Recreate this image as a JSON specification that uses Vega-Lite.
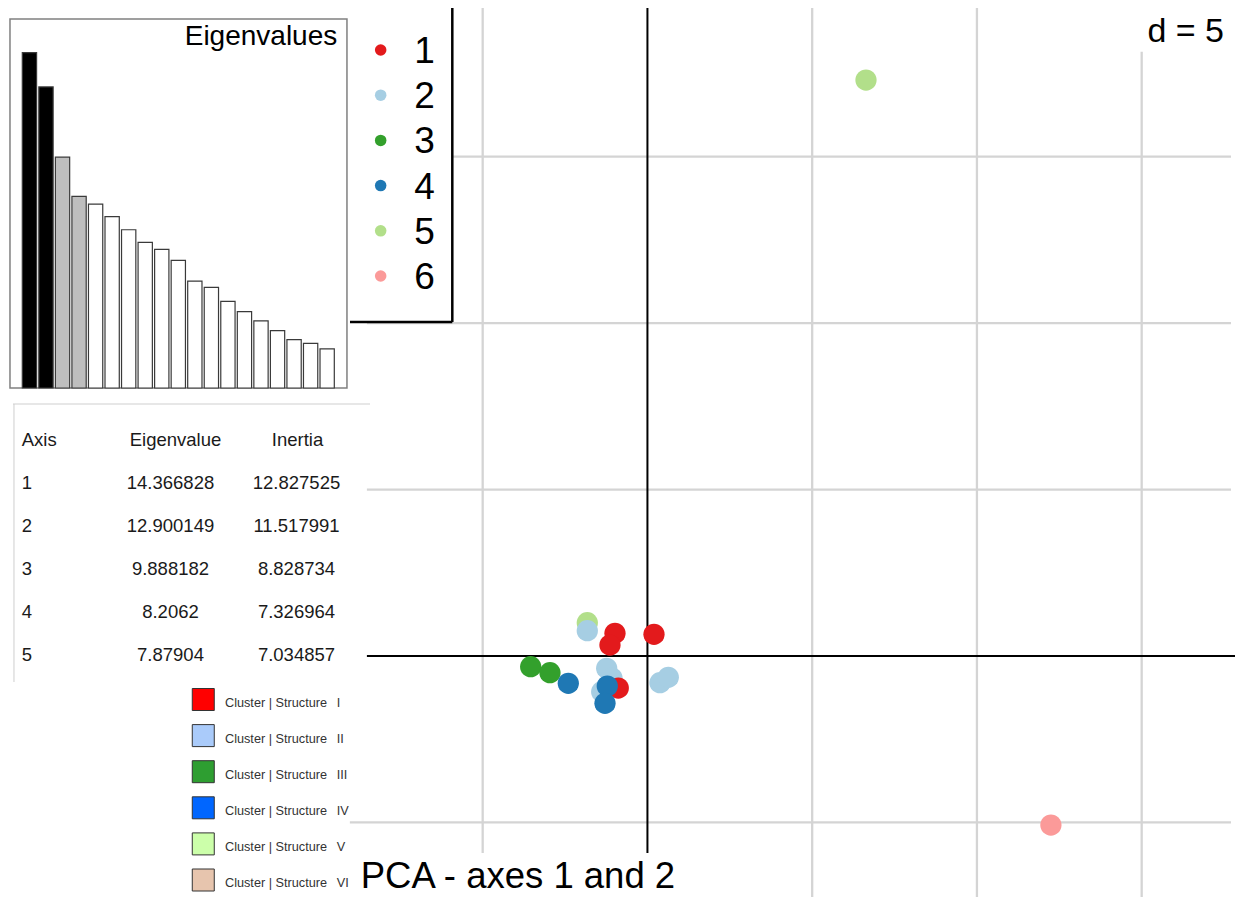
{
  "$schema": "https://vega.github.io/schema/vega-lite/v6.json",
  "width": 1235,
  "height": 897,
  "autosize": {"type": "none"},
  "padding": 0,
  "background": "white",
  "config": {"view": {"stroke": null}, "font": "Liberation Sans"},
  "datasets": {
    "pca": [
      {"group": "3", "pc1": -3.543, "pc2": -0.321},
      {"group": "3", "pc1": -2.958, "pc2": -0.502},
      {"group": "4", "pc1": -2.402, "pc2": -0.820},
      {"group": "5", "pc1": -1.825, "pc2": 1.000},
      {"group": "2", "pc1": -1.825, "pc2": 0.760},
      {"group": "1", "pc1": -0.985, "pc2": 0.682},
      {"group": "1", "pc1": -1.137, "pc2": 0.330},
      {"group": "1", "pc1": 0.199, "pc2": 0.652},
      {"group": "2", "pc1": -1.237, "pc2": -0.369},
      {"group": "2", "pc1": -1.076, "pc2": -0.661},
      {"group": "2", "pc1": -1.388, "pc2": -1.072},
      {"group": "1", "pc1": -0.885, "pc2": -0.961},
      {"group": "4", "pc1": -1.219, "pc2": -0.901},
      {"group": "4", "pc1": -1.288, "pc2": -1.421},
      {"group": "2", "pc1": 0.381, "pc2": -0.802},
      {"group": "2", "pc1": 0.633, "pc2": -0.640},
      {"group": "5", "pc1": 6.633, "pc2": 17.30},
      {"group": "6", "pc1": 12.245, "pc2": -5.077}
    ],
    "eig": [
      {"axis": 1, "eigenvalue": 14.366828, "status": "shown"},
      {"axis": 2, "eigenvalue": 12.900149, "status": "shown"},
      {"axis": 3, "eigenvalue": 9.888182, "status": "retained"},
      {"axis": 4, "eigenvalue": 8.2062, "status": "retained"},
      {"axis": 5, "eigenvalue": 7.87904, "status": "other"},
      {"axis": 6, "eigenvalue": 7.34, "status": "other"},
      {"axis": 7, "eigenvalue": 6.78, "status": "other"},
      {"axis": 8, "eigenvalue": 6.24, "status": "other"},
      {"axis": 9, "eigenvalue": 5.94, "status": "other"},
      {"axis": 10, "eigenvalue": 5.47, "status": "other"},
      {"axis": 11, "eigenvalue": 4.58, "status": "other"},
      {"axis": 12, "eigenvalue": 4.31, "status": "other"},
      {"axis": 13, "eigenvalue": 3.71, "status": "other"},
      {"axis": 14, "eigenvalue": 3.27, "status": "other"},
      {"axis": 15, "eigenvalue": 2.88, "status": "other"},
      {"axis": 16, "eigenvalue": 2.46, "status": "other"},
      {"axis": 17, "eigenvalue": 2.07, "status": "other"},
      {"axis": 18, "eigenvalue": 1.91, "status": "other"},
      {"axis": 19, "eigenvalue": 1.68, "status": "other"}
    ],
    "table": [
      {"axis": 1, "eigenvalue": "14.366828", "inertia": "12.827525"},
      {"axis": 2, "eigenvalue": "12.900149", "inertia": "11.517991"},
      {"axis": 3, "eigenvalue": "9.888182", "inertia": "8.828734"},
      {"axis": 4, "eigenvalue": "8.2062", "inertia": "7.326964"},
      {"axis": 5, "eigenvalue": "7.87904", "inertia": "7.034857"}
    ],
    "grid": [{"v": -5}, {"v": 5}, {"v": 10}, {"v": 15}],
    "groups": [{"group": "1"}, {"group": "2"}, {"group": "3"}, {"group": "4"}, {"group": "5"}, {"group": "6"}],
    "structures": [{"structure": "I"}, {"structure": "II"}, {"structure": "III"}, {"structure": "IV"}, {"structure": "V"}, {"structure": "VI"}]
  },
  "resolve": {"scale": {"x": "independent", "y": "independent", "color": "independent", "fill": "independent"}},
  "layer": [
    {
      "data": {"name": "grid"},
      "mark": {"type": "rule", "stroke": "#d4d4d4", "strokeWidth": 2.3},
      "encoding": {
        "x": {"field": "v", "type": "quantitative", "scale": {"domain": [-19.649, 17.832], "nice": false, "zero": false}, "axis": null},
        "y": {"datum": -7.239, "type": "quantitative", "scale": {"domain": [-7.239, 19.706], "nice": false, "zero": false}, "axis": null},
        "y2": {"datum": 19.465}
      }
    },
    {
      "data": {"name": "grid"},
      "mark": {"type": "rule", "stroke": "#d4d4d4", "strokeWidth": 2.3},
      "encoding": {
        "y": {"field": "v", "type": "quantitative", "scale": {"domain": [-7.239, 19.706], "nice": false, "zero": false}, "axis": null},
        "x": {"datum": -19.649, "type": "quantitative", "scale": {"domain": [-19.649, 17.832], "nice": false, "zero": false}, "axis": null},
        "x2": {"datum": 17.71}
      }
    },
    {
      "data": {"values": [{}]},
      "mark": {"type": "rule", "stroke": "#000000", "strokeWidth": 2},
      "encoding": {
        "x": {"datum": 0, "type": "quantitative", "scale": {"domain": [-19.649, 17.832], "nice": false, "zero": false}, "axis": null},
        "y": {"datum": -7.239, "type": "quantitative", "scale": {"domain": [-7.239, 19.706], "nice": false, "zero": false}, "axis": null},
        "y2": {"datum": 19.465}
      }
    },
    {
      "data": {"values": [{}]},
      "mark": {"type": "rule", "stroke": "#000000", "strokeWidth": 2},
      "encoding": {
        "y": {"datum": 0, "type": "quantitative", "scale": {"domain": [-7.239, 19.706], "nice": false, "zero": false}, "axis": null},
        "x": {"datum": -19.649, "type": "quantitative", "scale": {"domain": [-19.649, 17.832], "nice": false, "zero": false}, "axis": null},
        "x2": {"datum": 17.832}
      }
    },
    {
      "data": {"name": "pca"},
      "mark": {"type": "circle", "size": 452, "opacity": 1},
      "encoding": {
        "x": {"field": "pc1", "type": "quantitative", "scale": {"domain": [-19.649, 17.832], "nice": false, "zero": false}, "axis": null},
        "y": {"field": "pc2", "type": "quantitative", "scale": {"domain": [-7.239, 19.706], "nice": false, "zero": false}, "axis": null},
        "color": {"field": "group", "type": "nominal", "scale": {"domain": ["1", "2", "3", "4", "5", "6"], "range": ["#e31a1c", "#a6cee3", "#33a02c", "#1f78b4", "#b2df8a", "#fb9a99"]}, "legend": null}
      }
    },
    {
      "data": {"values": [{}]},
      "mark": {"type": "rect", "fill": "white"},
      "encoding": {
        "x": {"datum": -19.649, "type": "quantitative", "scale": {"domain": [-19.649, 17.832], "nice": false, "zero": false}, "axis": null},
        "x2": {"datum": -5.932},
        "y": {"datum": 10.033, "type": "quantitative", "scale": {"domain": [-7.239, 19.706], "nice": false, "zero": false}, "axis": null},
        "y2": {"datum": 19.706}
      }
    },
    {
      "data": {"values": [{}]},
      "mark": {"type": "rect", "fill": "white"},
      "encoding": {
        "x": {"datum": -19.649, "type": "quantitative", "scale": {"domain": [-19.649, 17.832], "nice": false, "zero": false}, "axis": null},
        "x2": {"datum": -8.514},
        "y": {"datum": -1.021, "type": "quantitative", "scale": {"domain": [-7.239, 19.706], "nice": false, "zero": false}, "axis": null},
        "y2": {"datum": 10.033}
      }
    },
    {
      "data": {"values": [{}]},
      "mark": {"type": "rect", "fill": "white"},
      "encoding": {
        "x": {"datum": -19.649, "type": "quantitative", "scale": {"domain": [-19.649, 17.832], "nice": false, "zero": false}, "axis": null},
        "x2": {"datum": -9.031},
        "y": {"datum": -7.239, "type": "quantitative", "scale": {"domain": [-7.239, 19.706], "nice": false, "zero": false}, "axis": null},
        "y2": {"datum": -1.021}
      }
    },
    {
      "data": {"values": [{}]},
      "mark": {"type": "rect", "fill": "white"},
      "encoding": {
        "x": {"datum": -9.031, "type": "quantitative", "scale": {"domain": [-19.649, 17.832], "nice": false, "zero": false}, "axis": null},
        "x2": {"datum": 1.443},
        "y": {"datum": -7.239, "type": "quantitative", "scale": {"domain": [-7.239, 19.706], "nice": false, "zero": false}, "axis": null},
        "y2": {"datum": -5.918}
      }
    },
    {
      "data": {"values": [{}]},
      "mark": {"type": "rect", "fill": "white"},
      "encoding": {
        "x": {"datum": 14.645, "type": "quantitative", "scale": {"domain": [-19.649, 17.832], "nice": false, "zero": false}, "axis": null},
        "x2": {"datum": 17.832},
        "y": {"datum": 18.153, "type": "quantitative", "scale": {"domain": [-7.239, 19.706], "nice": false, "zero": false}, "axis": null},
        "y2": {"datum": 19.706}
      }
    },
    {
      "data": {"values": [{}]},
      "mark": {"type": "rect", "fill": "white", "stroke": "#808080", "strokeWidth": 1.5},
      "encoding": {
        "x": {"datum": -19.346, "type": "quantitative", "scale": {"domain": [-19.649, 17.832], "nice": false, "zero": false}, "axis": null},
        "x2": {"datum": -9.119},
        "y": {"datum": 8.050, "type": "quantitative", "scale": {"domain": [-7.239, 19.706], "nice": false, "zero": false}, "axis": null},
        "y2": {"datum": 19.135}
      }
    },
    {
      "data": {"name": "eig"},
      "mark": {"type": "bar", "stroke": "#3a3a3a", "strokeWidth": 1.2},
      "encoding": {
        "x": {"field": "axis", "type": "ordinal", "scale": {"range": [22.3, 334.3], "paddingInner": 0.136, "paddingOuter": 0}, "axis": null},
        "y": {"field": "eigenvalue", "type": "quantitative", "scale": {"domain": [0, 15], "range": [388, 37.9], "nice": false, "zero": true}, "axis": null},
        "fill": {"field": "status", "type": "nominal", "scale": {"domain": ["shown", "retained", "other"], "range": ["#000000", "#bebebe", "#ffffff"]}, "legend": null}
      }
    },
    {
      "data": {"values": [{"label": "Eigenvalues"}]},
      "mark": {"type": "text", "align": "right", "baseline": "alphabetic", "fontSize": 28, "font": "Liberation Sans", "color": "#000000"},
      "encoding": {
        "x": {"datum": -9.413, "type": "quantitative", "scale": {"domain": [-19.649, 17.832], "nice": false, "zero": false}, "axis": null},
        "y": {"datum": 18.354, "type": "quantitative", "scale": {"domain": [-7.239, 19.706], "nice": false, "zero": false}, "axis": null},
        "text": {"field": "label"}
      }
    },
    {
      "data": {"values": [{}]},
      "mark": {"type": "rule", "stroke": "#000000", "strokeWidth": 2.5},
      "encoding": {
        "x": {"datum": -5.922, "type": "quantitative", "scale": {"domain": [-19.649, 17.832], "nice": false, "zero": false}, "axis": null},
        "y": {"datum": 10.033, "type": "quantitative", "scale": {"domain": [-7.239, 19.706], "nice": false, "zero": false}, "axis": null},
        "y2": {"datum": 19.465}
      }
    },
    {
      "data": {"values": [{}]},
      "mark": {"type": "rule", "stroke": "#000000", "strokeWidth": 2.5},
      "encoding": {
        "y": {"datum": 10.033, "type": "quantitative", "scale": {"domain": [-7.239, 19.706], "nice": false, "zero": false}, "axis": null},
        "x": {"datum": -9.027, "type": "quantitative", "scale": {"domain": [-19.649, 17.832], "nice": false, "zero": false}, "axis": null},
        "x2": {"datum": -5.922}
      }
    },
    {
      "data": {"name": "groups"},
      "mark": {"type": "circle", "size": 133, "opacity": 1},
      "encoding": {
        "x": {"datum": -8.096, "type": "quantitative", "scale": {"domain": [-19.649, 17.832], "nice": false, "zero": false}, "axis": null},
        "y": {"field": "group", "type": "ordinal", "scale": {"type": "point", "domain": ["1", "2", "3", "4", "5", "6"], "range": [50, 276], "padding": 0}, "axis": null},
        "color": {"field": "group", "type": "nominal", "scale": {"domain": ["1", "2", "3", "4", "5", "6"], "range": ["#e31a1c", "#a6cee3", "#33a02c", "#1f78b4", "#b2df8a", "#fb9a99"]}, "legend": null}
      }
    },
    {
      "data": {"name": "groups"},
      "mark": {"type": "text", "align": "center", "baseline": "alphabetic", "dy": 13, "fontSize": 37, "font": "Liberation Sans", "color": "#000000"},
      "encoding": {
        "x": {"datum": -6.766, "type": "quantitative", "scale": {"domain": [-19.649, 17.832], "nice": false, "zero": false}, "axis": null},
        "y": {"field": "group", "type": "ordinal", "scale": {"type": "point", "domain": ["1", "2", "3", "4", "5", "6"], "range": [50, 276], "padding": 0}, "axis": null},
        "text": {"field": "group"}
      }
    },
    {
      "data": {"values": [{}]},
      "mark": {"type": "rule", "stroke": "#cfcfcf", "strokeWidth": 1},
      "encoding": {
        "y": {"datum": 7.570, "type": "quantitative", "scale": {"domain": [-7.239, 19.706], "nice": false, "zero": false}, "axis": null},
        "x": {"datum": -19.255, "type": "quantitative", "scale": {"domain": [-19.649, 17.832], "nice": false, "zero": false}, "axis": null},
        "x2": {"datum": -8.420}
      }
    },
    {
      "data": {"values": [{}]},
      "mark": {"type": "rule", "stroke": "#cfcfcf", "strokeWidth": 1},
      "encoding": {
        "x": {"datum": -19.225, "type": "quantitative", "scale": {"domain": [-19.649, 17.832], "nice": false, "zero": false}, "axis": null},
        "y": {"datum": -0.781, "type": "quantitative", "scale": {"domain": [-7.239, 19.706], "nice": false, "zero": false}, "axis": null},
        "y2": {"datum": 7.570}
      }
    },
    {
      "data": {"values": [{"label": "Axis"}]},
      "mark": {"type": "text", "align": "left", "baseline": "alphabetic", "fontSize": 18.5, "font": "Liberation Sans", "color": "#1a1a1a"},
      "encoding": {
        "x": {"datum": -18.991, "type": "quantitative", "scale": {"domain": [-19.649, 17.832], "nice": false, "zero": false}, "axis": null},
        "y": {"datum": 0, "type": "quantitative", "scale": {"domain": [0, 5], "range": [446, 661], "nice": false, "zero": false}, "axis": null},
        "text": {"field": "label"}
      }
    },
    {
      "data": {"values": [{"label": "Eigenvalue"}]},
      "mark": {"type": "text", "align": "center", "baseline": "alphabetic", "fontSize": 18.5, "font": "Liberation Sans", "color": "#1a1a1a"},
      "encoding": {
        "x": {"datum": -14.323, "type": "quantitative", "scale": {"domain": [-19.649, 17.832], "nice": false, "zero": false}, "axis": null},
        "y": {"datum": 0, "type": "quantitative", "scale": {"domain": [0, 5], "range": [446, 661], "nice": false, "zero": false}, "axis": null},
        "text": {"field": "label"}
      }
    },
    {
      "data": {"values": [{"label": "Inertia"}]},
      "mark": {"type": "text", "align": "center", "baseline": "alphabetic", "fontSize": 18.5, "font": "Liberation Sans", "color": "#1a1a1a"},
      "encoding": {
        "x": {"datum": -10.621, "type": "quantitative", "scale": {"domain": [-19.649, 17.832], "nice": false, "zero": false}, "axis": null},
        "y": {"datum": 0, "type": "quantitative", "scale": {"domain": [0, 5], "range": [446, 661], "nice": false, "zero": false}, "axis": null},
        "text": {"field": "label"}
      }
    },
    {
      "data": {"name": "table"},
      "mark": {"type": "text", "align": "left", "baseline": "alphabetic", "fontSize": 18.5, "font": "Liberation Sans", "color": "#1a1a1a"},
      "encoding": {
        "x": {"datum": -18.991, "type": "quantitative", "scale": {"domain": [-19.649, 17.832], "nice": false, "zero": false}, "axis": null},
        "y": {"field": "axis", "type": "quantitative", "scale": {"domain": [0, 5], "range": [446, 661], "nice": false, "zero": false}, "axis": null},
        "text": {"field": "axis", "type": "nominal"}
      }
    },
    {
      "data": {"name": "table"},
      "mark": {"type": "text", "align": "center", "baseline": "alphabetic", "fontSize": 18.5, "font": "Liberation Sans", "color": "#1a1a1a"},
      "encoding": {
        "x": {"datum": -14.475, "type": "quantitative", "scale": {"domain": [-19.649, 17.832], "nice": false, "zero": false}, "axis": null},
        "y": {"field": "axis", "type": "quantitative", "scale": {"domain": [0, 5], "range": [446, 661], "nice": false, "zero": false}, "axis": null},
        "text": {"field": "eigenvalue", "type": "nominal"}
      }
    },
    {
      "data": {"name": "table"},
      "mark": {"type": "text", "align": "center", "baseline": "alphabetic", "fontSize": 18.5, "font": "Liberation Sans", "color": "#1a1a1a"},
      "encoding": {
        "x": {"datum": -10.651, "type": "quantitative", "scale": {"domain": [-19.649, 17.832], "nice": false, "zero": false}, "axis": null},
        "y": {"field": "axis", "type": "quantitative", "scale": {"domain": [0, 5], "range": [446, 661], "nice": false, "zero": false}, "axis": null},
        "text": {"field": "inertia", "type": "nominal"}
      }
    },
    {
      "data": {"name": "structures"},
      "mark": {"type": "square", "size": 484, "stroke": "#333333", "strokeWidth": 1, "opacity": 1},
      "encoding": {
        "x": {"datum": -13.480, "type": "quantitative", "scale": {"domain": [-19.649, 17.832], "nice": false, "zero": false}, "axis": null},
        "y": {"field": "structure", "type": "ordinal", "scale": {"type": "point", "domain": ["I", "II", "III", "IV", "V", "VI"], "range": [699.5, 880], "padding": 0}, "axis": null},
        "fill": {"field": "structure", "type": "nominal", "scale": {"domain": ["I", "II", "III", "IV", "V", "VI"], "range": ["#ff0000", "#aacbfa", "#2e9e31", "#0066ff", "#ccffaa", "#e7c5ae"]}, "legend": null}
      }
    },
    {
      "data": {"name": "structures"},
      "mark": {"type": "text", "align": "left", "baseline": "alphabetic", "dy": 7, "fontSize": 12.7, "font": "Liberation Sans", "color": "#333333", "text": "Cluster | Structure"},
      "encoding": {
        "x": {"datum": -12.821, "type": "quantitative", "scale": {"domain": [-19.649, 17.832], "nice": false, "zero": false}, "axis": null},
        "y": {"field": "structure", "type": "ordinal", "scale": {"type": "point", "domain": ["I", "II", "III", "IV", "V", "VI"], "range": [699.5, 880], "padding": 0}, "axis": null}
      }
    },
    {
      "data": {"name": "structures"},
      "mark": {"type": "text", "align": "left", "baseline": "alphabetic", "dy": 7, "fontSize": 12.7, "font": "Liberation Sans", "color": "#333333"},
      "encoding": {
        "x": {"datum": -9.431, "type": "quantitative", "scale": {"domain": [-19.649, 17.832], "nice": false, "zero": false}, "axis": null},
        "y": {"field": "structure", "type": "ordinal", "scale": {"type": "point", "domain": ["I", "II", "III", "IV", "V", "VI"], "range": [699.5, 880], "padding": 0}, "axis": null},
        "text": {"field": "structure"}
      }
    },
    {
      "data": {"values": [{"label": "d = 5"}]},
      "mark": {"type": "text", "align": "right", "baseline": "alphabetic", "fontSize": 34, "font": "Liberation Sans", "color": "#000000"},
      "encoding": {
        "x": {"datum": 17.498, "type": "quantitative", "scale": {"domain": [-19.649, 17.832], "nice": false, "zero": false}, "axis": null},
        "y": {"datum": 18.453, "type": "quantitative", "scale": {"domain": [-7.239, 19.706], "nice": false, "zero": false}, "axis": null},
        "text": {"field": "label"}
      }
    },
    {
      "data": {"values": [{"label": "PCA - axes 1 and 2"}]},
      "mark": {"type": "text", "align": "left", "baseline": "alphabetic", "fontSize": 36.5, "font": "Liberation Sans", "color": "#000000"},
      "encoding": {
        "x": {"datum": -8.703, "type": "quantitative", "scale": {"domain": [-19.649, 17.832], "nice": false, "zero": false}, "axis": null},
        "y": {"datum": -6.976, "type": "quantitative", "scale": {"domain": [-7.239, 19.706], "nice": false, "zero": false}, "axis": null},
        "text": {"field": "label"}
      }
    }
  ]
}
